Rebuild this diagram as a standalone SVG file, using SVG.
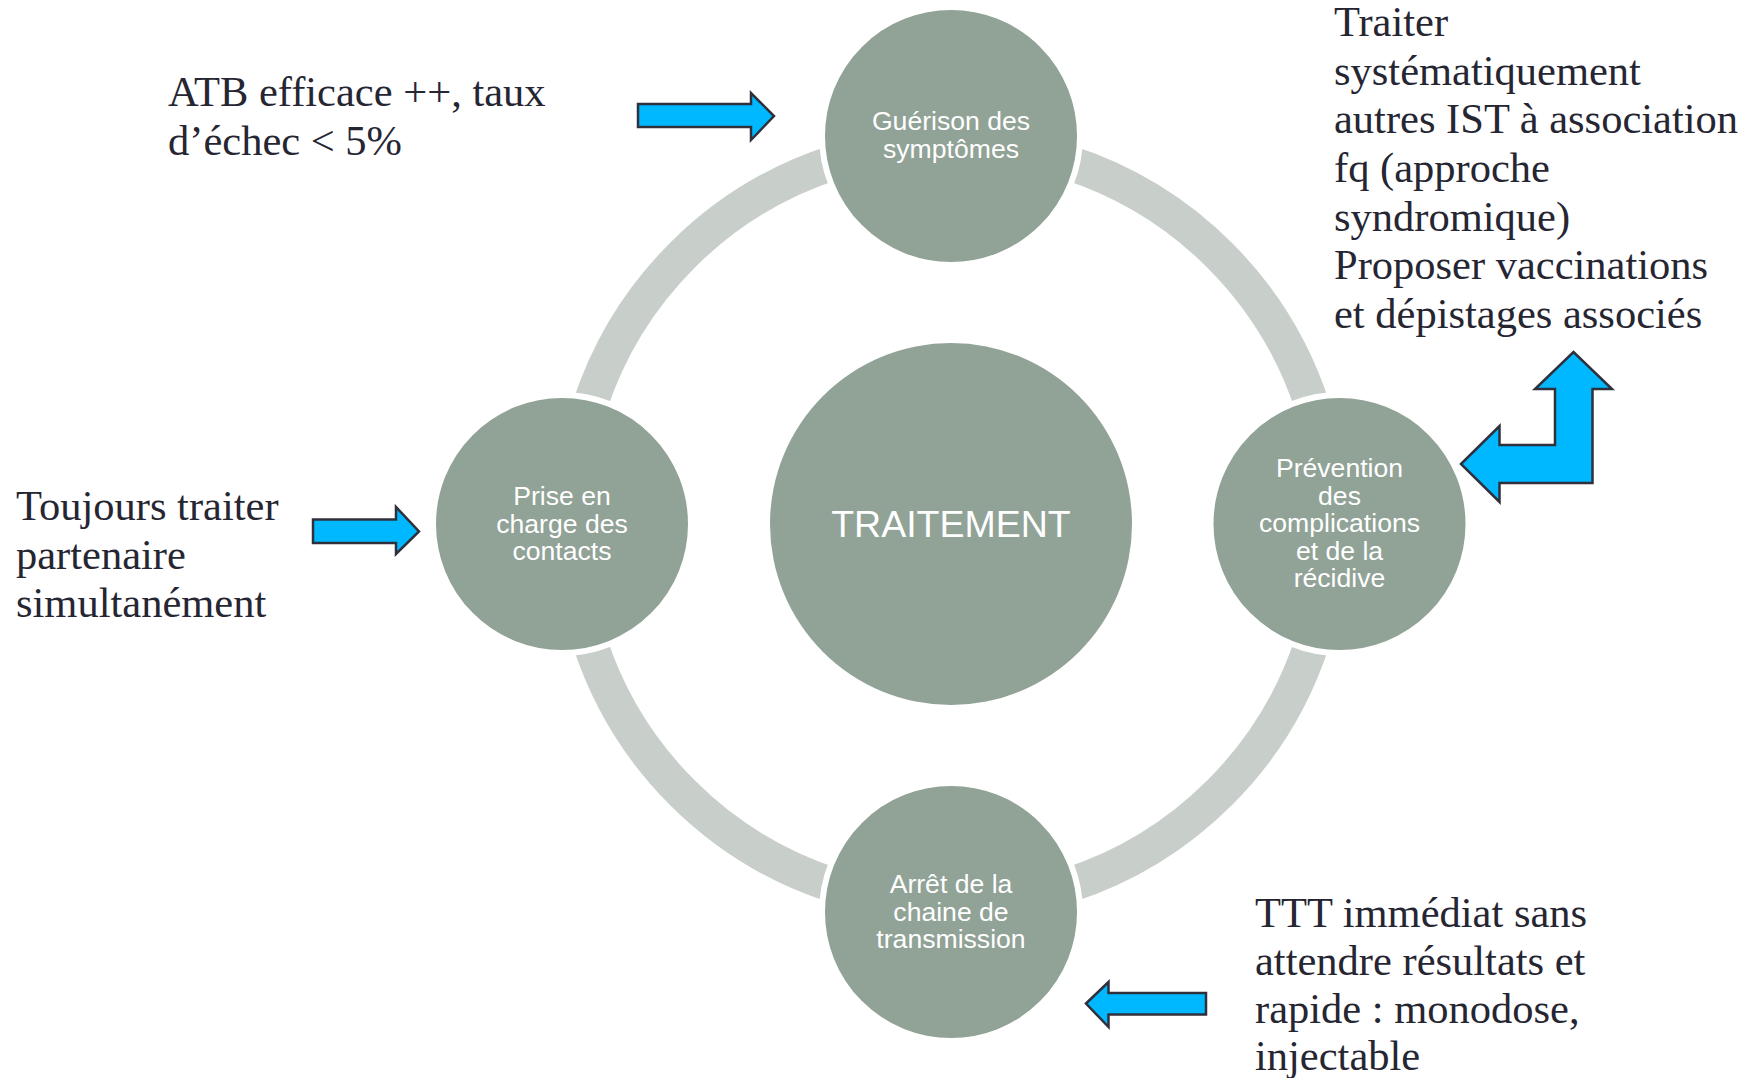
<svg xmlns="http://www.w3.org/2000/svg" width="1749" height="1078" viewBox="0 0 1749 1078">
<style>
.ring{fill:none;stroke:#C8CFCB;stroke-width:35}
.node{fill:#91A297;stroke:#FFFFFF;stroke-width:6}
.nt{font-family:"Liberation Sans",Arial,sans-serif;font-size:26.6px;fill:#FFFFFF;text-anchor:middle}
.big{font-family:"Liberation Sans",Arial,sans-serif;font-size:37.5px;fill:#FFFFFF;text-anchor:middle}
.note{font-family:"Liberation Serif","Times New Roman",serif;font-size:42.5px;fill:#262633}
.arr{fill:#00B8FF;stroke:#30303C;stroke-width:2.5;stroke-linejoin:miter}
</style>
<rect width="1749" height="1078" fill="#FFFFFF"/>
<g id="connectors">
<path class="ring" d="M1068.4,162.6 A380,380 0 0 1 1312.4,406.6"/>
<path class="ring" d="M1312.4,641.4 A380,380 0 0 1 1068.4,885.4"/>
<path class="ring" d="M833.6,885.4 A380,380 0 0 1 589.6,641.4"/>
<path class="ring" d="M589.6,406.6 A380,380 0 0 1 833.6,162.6"/>
</g>
<g id="node-center">
<circle class="node" cx="951" cy="524" r="181" style="stroke:none"/>
<text class="big" x="951" y="536.5">TRAITEMENT</text>
</g>
<g id="node-top">
<circle class="node" cx="951" cy="136" r="129"/>
<text class="nt" x="951" y="130">Guérison des</text>
<text class="nt" x="951" y="157.5">symptômes</text>
</g>
<g id="node-right">
<circle class="node" cx="1339.5" cy="524" r="129"/>
<text class="nt" x="1339.5" y="477">Prévention</text>
<text class="nt" x="1339.5" y="504.5">des</text>
<text class="nt" x="1339.5" y="532">complications</text>
<text class="nt" x="1339.5" y="559.5">et de la</text>
<text class="nt" x="1339.5" y="587">récidive</text>
</g>
<g id="node-bottom">
<circle class="node" cx="951" cy="912" r="129"/>
<text class="nt" x="951" y="893">Arrêt de la</text>
<text class="nt" x="951" y="920.5">chaine de</text>
<text class="nt" x="951" y="948">transmission</text>
</g>
<g id="node-left">
<circle class="node" cx="562" cy="524" r="129"/>
<text class="nt" x="562" y="505">Prise en</text>
<text class="nt" x="562" y="532.5">charge des</text>
<text class="nt" x="562" y="560">contacts</text>
</g>
<g id="note-top">
<polygon class="arr" points="638,104 751,104 751,93 774,116 751,140 751,127 638,127"/>
<text class="note" x="168" y="106">ATB efficace ++, taux</text>
<text class="note" x="168" y="155">d’échec &lt; 5%</text>
</g>
<g id="note-left">
<polygon class="arr" points="313,519.5 396,519.5 396,507 419,531.5 396,554 396,543 313,543"/>
<text class="note" x="16" y="520">Toujours traiter</text>
<text class="note" x="16" y="568.5">partenaire</text>
<text class="note" x="16" y="617">simultanément</text>
</g>
<g id="note-right">
<polygon class="arr" points="1461,464 1499.5,426 1499.5,445 1555,445 1555,389 1535,389 1573.5,352 1612,389 1592.5,389 1592.5,483 1499.5,483 1499.5,502"/>
<text class="note" x="1334" y="36">Traiter</text>
<text class="note" x="1334" y="84.7">systématiquement</text>
<text class="note" x="1334" y="133.4">autres IST à association</text>
<text class="note" x="1334" y="182">fq (approche</text>
<text class="note" x="1334" y="230.8">syndromique)</text>
<text class="note" x="1334" y="279">Proposer vaccinations</text>
<text class="note" x="1334" y="328">et dépistages associés</text>
</g>
<g id="note-bottom">
<polygon class="arr" points="1086,1003.5 1108.5,982 1108.5,993 1206,993 1206,1014.5 1108.5,1014.5 1108.5,1027"/>
<text class="note" x="1255" y="927">TTT immédiat sans</text>
<text class="note" x="1255" y="975">attendre résultats et</text>
<text class="note" x="1255" y="1023">rapide : monodose,</text>
<text class="note" x="1255" y="1069.5">injectable</text>
</g>
</svg>
